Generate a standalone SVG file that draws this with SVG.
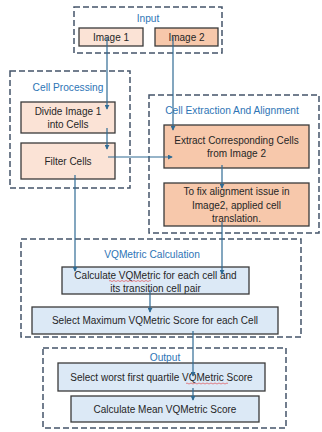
<svg xmlns="http://www.w3.org/2000/svg" width="322" height="432" viewBox="0 0 322 432">
<defs>
<style>
.grp{fill:none;stroke:#44546a;stroke-width:1.5;stroke-dasharray:6 3}
.box{stroke:#3a3a3a;stroke-width:1.3}
.p1{fill:#fbe3d6}
.p2{fill:#f7c8ab}
.bl{fill:#dce9f6}
.t{font-family:"Liberation Sans",Arial,sans-serif;font-size:10px;fill:#262626;text-anchor:middle}
.h{font-family:"Liberation Sans",Arial,sans-serif;font-size:10.2px;fill:#2e75b6;text-anchor:middle}
.c{fill:none;stroke:#2f6b94;stroke-width:1.2}
.sq{fill:none;stroke:#e0383b;stroke-width:0.6}
</style>
<marker id="ah" viewBox="0 0 6 6" refX="5" refY="3" markerWidth="5" markerHeight="5" orient="auto" markerUnits="userSpaceOnUse">
<path d="M0,0 L6,3 L0,6 z" fill="#2f6b94"/>
</marker>
</defs>
<rect width="322" height="432" fill="#ffffff"/>

<g id="input">
<rect class="grp" x="74" y="7" width="148" height="46"/>
<text class="h" x="148" y="22">Input</text>
</g>
<g id="image1">
<rect class="box p1" x="79" y="28" width="64" height="18"/>
<text class="t" x="111" y="41">Image 1</text>
</g>
<g id="image2">
<rect class="box p2" x="155" y="28" width="63" height="18"/>
<text class="t" x="186.5" y="41">Image 2</text>
</g>

<g id="cell-processing">
<rect class="grp" x="10" y="71" width="120" height="117"/>
<text class="h" x="68" y="91">Cell Processing</text>
</g>
<g id="divide">
<rect class="box p1" x="21" y="102" width="94" height="31"/>
<text class="t" x="68" y="115">Divide Image 1</text>
<text class="t" x="68" y="128">into Cells</text>
</g>
<g id="filter">
<rect class="box p1" x="21" y="143" width="94" height="36"/>
<text class="t" x="68" y="165">Filter Cells</text>
</g>

<g id="cell-extraction">
<rect class="grp" x="149" y="95" width="170" height="138"/>
<text class="h" x="232" y="114">Cell Extraction And Alignment</text>
</g>
<g id="extract">
<rect class="box p2" x="164" y="125" width="145" height="43"/>
<text class="t" x="236.5" y="143.5">Extract Corresponding Cells</text>
<text class="t" x="236.5" y="157">from Image 2</text>
</g>
<g id="fix">
<rect class="box p2" x="164" y="183" width="145" height="43"/>
<text class="t" x="236.5" y="195">To fix alignment issue in</text>
<text class="t" x="236.5" y="208.5">Image2, applied cell</text>
<text class="t" x="236.5" y="222">translation.</text>
</g>

<g id="vqmetric-calculation">
<rect class="grp" x="21" y="239" width="280" height="98"/>
<text class="h" x="152" y="258">VQMetric Calculation</text>
</g>
<g id="calculate">
<rect class="box bl" x="62" y="267" width="187" height="27"/>
<text class="t" x="155.5" y="278.5">Calculate VQMetric for each cell and</text>
<text class="t" x="155.5" y="291.5">its transition cell pair</text>
<path class="sq" d="M109,281 q1,-1 2,0 t2,0 t2,0 t2,0 t2,0 t2,0 t2,0 t2,0 t2,0 t2,0 t2,0 t2,0 t2,0 t2,0 t2,0 t2,0 t2,0 t2,0 t2,0 t2,0 t2,0"/>
</g>
<g id="select-max">
<rect class="box bl" x="32" y="307" width="246" height="27"/>
<text class="t" x="155" y="324">Select Maximum VQMetric Score for each Cell</text>
</g>

<g id="output">
<rect class="grp" x="43" y="348" width="243" height="80"/>
<text class="h" x="165" y="361">Output</text>
</g>
<g id="select-worst">
<rect class="box bl" x="58" y="363" width="207" height="28"/>
<text class="t" x="161.5" y="380.5">Select worst first quartile VQMetric Score</text>
<path class="sq" d="M186,383.5 q1,-1 2,0 t2,0 t2,0 t2,0 t2,0 t2,0 t2,0 t2,0 t2,0 t2,0 t2,0 t2,0 t2,0 t2,0 t2,0 t2,0 t2,0 t2,0 t2,0 t2,0 t2,0"/>
</g>
<g id="calc-mean">
<rect class="box bl" x="71" y="396" width="188" height="26"/>
<text class="t" x="165" y="412.5">Calculate Mean VQMetric Score</text>
</g>

<g id="connectors">
<path class="c" d="M107,37 V109" marker-end="url(#ah)"/>
<path class="c" d="M173,37 V130" marker-end="url(#ah)"/>
<path class="c" d="M107,128 V149" marker-end="url(#ah)"/>
<path class="c" d="M108,157 H172" marker-end="url(#ah)"/>
<path class="c" d="M222,165 V188" marker-end="url(#ah)"/>
<path class="c" d="M75,175 V271" marker-end="url(#ah)"/>
<path class="c" d="M222,222 V274" marker-end="url(#ah)"/>
<path class="c" d="M150,290 V312" marker-end="url(#ah)"/>
<path class="c" d="M193,331 V376" marker-end="url(#ah)"/>
<path class="c" d="M193,388 V400" marker-end="url(#ah)"/>
</g>
</svg>
